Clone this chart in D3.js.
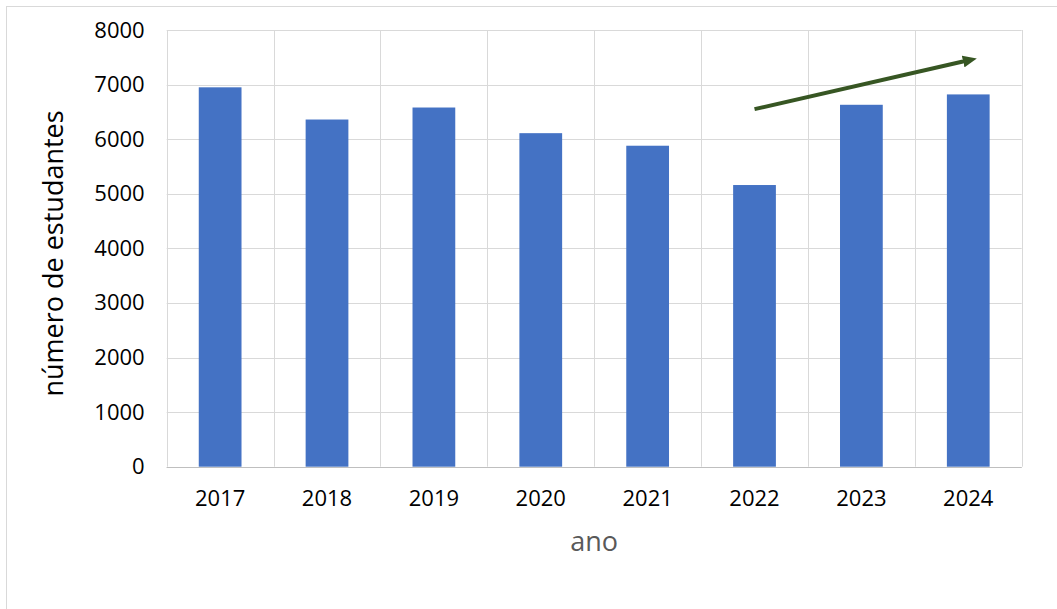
<!DOCTYPE html>
<html>
<head>
<meta charset="utf-8">
<script src="https://cdn.jsdelivr.net/npm/d3@7"></script>
<style>
  body { margin: 0; background: #fff; }
  svg { display: block; font-family: "Open Sans", sans-serif; }
</style>
</head>
<body>
<div class="canvas"></div>
<script>
// data
const years = ['2017', '2018', '2019', '2020', '2021', '2022', '2023', '2024']
const students = [6950, 6360, 6580, 6110, 5880, 5160, 6630, 6820]
const yTicks = [0, 1000, 2000, 3000, 4000, 5000, 6000, 7000, 8000]

// trend arrow, in data units (year + fraction of a band, value)
const arrowFrom = { year: '2022', shift: 0, value: 6550 }
const arrowTo = { year: '2024', shift: 0.08, value: 7480 }

const dims = { width: 1057, height: 609 }
const plot = { left: 166.7, right: 1021.7, top: 30, bottom: 466.7 }

const svg = d3.select('.canvas')
    .append('svg')
    .attr('width', dims.width)
    .attr('height', dims.height)

// outer chart frame (runs off the right and bottom edge)
svg.append('rect')
    .attr('x', 6.5).attr('y', 6.5)
    .attr('width', 1200).attr('height', 800)
    .attr('fill', 'none')
    .attr('stroke', '#d9d9d9')

const x = d3.scaleBand()
    .domain(years)
    .range([plot.left, plot.right])
    .paddingInner(0.6)
    .paddingOuter(0.3)

const y = d3.scaleLinear()
    .domain([0, 8000])
    .range([plot.bottom, plot.top])

const grid = svg.append('g').attr('class', 'grid')

// horizontal gridlines
grid.selectAll('line.h')
    .data(yTicks)
    .enter().append('line')
        .attr('class', 'h')
        .attr('x1', plot.left).attr('x2', plot.right)
        .attr('y1', d => Math.round(y(d)) + 0.5)
        .attr('y2', d => Math.round(y(d)) + 0.5)
        .attr('stroke', '#d9d9d9')

// vertical gridlines on the category edges
const half = (x.step() - x.bandwidth()) / 2
const edges = years.map(d => x(d) - half).concat([x(years[years.length - 1]) + x.bandwidth() + half])
grid.selectAll('line.v')
    .data(edges)
    .enter().append('line')
        .attr('class', 'v')
        .attr('x1', d => Math.round(d) + 0.5).attr('x2', d => Math.round(d) + 0.5)
        .attr('y1', plot.top).attr('y2', plot.bottom)
        .attr('stroke', '#d9d9d9')

// bars
svg.append('g').selectAll('rect')
    .data(years)
    .enter().append('rect')
        .attr('x', d => x(d))
        .attr('width', x.bandwidth())
        .attr('y', (d, i) => y(students[i]))
        .attr('height', (d, i) => y(0) - y(students[i]))
        .attr('fill', '#4472c4')

// bottom axis line
svg.append('line')
    .attr('x1', plot.left).attr('x2', plot.right)
    .attr('y1', Math.round(y(0)) + 0.5).attr('y2', Math.round(y(0)) + 0.5)
    .attr('stroke', '#bfbfbf')

// axes (labels only)
const yAxis = d3.axisLeft(y).tickValues(yTicks).tickSize(0).tickPadding(22).tickFormat(d3.format('d'))
const xAxis = d3.axisBottom(x).tickSize(0).tickPadding(24)

const yG = svg.append('g')
    .attr('transform', `translate(${plot.left}, 0)`)
    .call(yAxis)
const xG = svg.append('g')
    .attr('transform', `translate(0, ${plot.bottom})`)
    .call(xAxis)

;[yG, xG].forEach(g => {
    g.select('.domain').remove()
    g.selectAll('text')
        .attr('fill', '#000')
        .style('font-family', '"Open Sans", sans-serif')
        .style('font-size', '22px')
})

// axis titles
svg.append('text')
    .attr('transform', `translate(63, 253.5) rotate(-90)`)
    .attr('text-anchor', 'middle')
    .attr('fill', '#000')
    .style('font-size', '27px')
    .text('número de estudantes')

svg.append('text')
    .attr('x', (plot.left + plot.right) / 2)
    .attr('y', 551)
    .attr('text-anchor', 'middle')
    .attr('fill', '#595959')
    .style('font-size', '27px')
    .text('ano')

// trend arrow
svg.append('defs').append('marker')
    .attr('id', 'head')
    .attr('markerUnits', 'userSpaceOnUse')
    .attr('viewBox', '0 0 14 12')
    .attr('refX', 2).attr('refY', 6)
    .attr('markerWidth', 14).attr('markerHeight', 12)
    .attr('orient', 'auto')
    .append('path')
        .attr('d', 'M0,0 L14,6 L0,12 Z')
        .attr('fill', '#375623')

const ax = p => x(p.year) + x.bandwidth() / 2 + p.shift * x.step()
const lineEnd = (() => {
    const x1 = ax(arrowFrom), y1 = y(arrowFrom.value)
    const x2 = ax(arrowTo), y2 = y(arrowTo.value)
    const len = Math.hypot(x2 - x1, y2 - y1)
    const back = 12 // leave room for the head
    return [x1, y1, x2 - (x2 - x1) / len * back, y2 - (y2 - y1) / len * back]
})()

svg.append('line')
    .attr('x1', lineEnd[0]).attr('y1', lineEnd[1])
    .attr('x2', lineEnd[2]).attr('y2', lineEnd[3])
    .attr('stroke', '#375623')
    .attr('stroke-width', 4)
    .attr('marker-end', 'url(#head)')
</script>
</body>
</html>
